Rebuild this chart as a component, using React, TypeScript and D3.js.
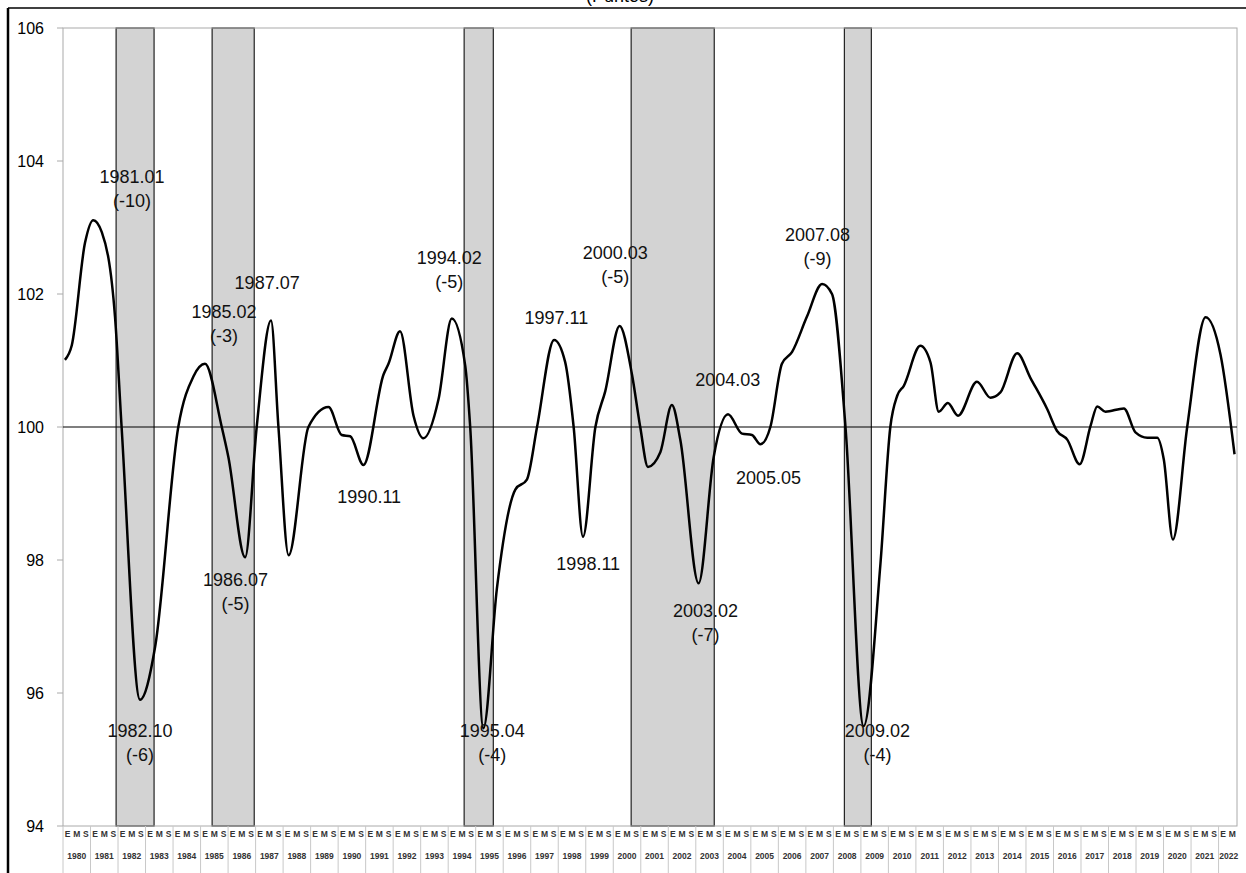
import React from 'react';
import * as d3 from 'd3';

// Curve points: decimal year and index value
const pointYears = [
  1980.07, 1980.32, 1980.8, 1981.1, 1981.41, 1981.89, 1982.13, 1982.8, 1983.35, 1984.19,
  1984.74, 1985.16, 1985.77, 1986.01, 1986.62, 1987.04, 1987.56, 1987.83, 1988.2, 1988.92,
  1989.65, 1990.13, 1990.44, 1990.92, 1991.65, 1991.83, 1992.25, 1992.74, 1993.1, 1993.65,
  1994.13, 1994.62, 1994.8, 1995.28, 1995.77, 1996.44, 1996.86, 1997.23, 1997.85, 1998.25,
  1998.56, 1998.9, 1999.35, 1999.71, 2000.23, 2000.68, 2000.98, 2001.26, 2001.71, 2002.13,
  2002.44, 2003.1, 2003.65, 2004.17, 2004.68, 2005.04, 2005.35, 2005.71, 2006.13, 2006.5,
  2007.04, 2007.59, 2007.95, 2008.44, 2009.1, 2009.71, 2010.07, 2010.32, 2010.56, 2011.16,
  2011.53, 2011.83, 2012.16, 2012.53, 2013.22, 2013.71, 2014.07, 2014.68, 2015.16, 2015.77,
  2016.13, 2016.5, 2016.95, 2017.35, 2017.59, 2017.89, 2018.56, 2018.98, 2019.41, 2019.77,
  2020.01, 2020.34, 2020.86, 2021.53, 2022.07, 2022.58,
];
const pointValues = [
  101.01, 101.23, 102.77, 103.11, 102.93, 101.66, 100, 95.9, 96.7, 100,
  100.76, 100.95, 100, 99.55, 98.04, 100, 101.6, 100, 98.07, 100,
  100.3, 99.88, 99.86, 99.43, 100.79, 100.95, 101.44, 100.17, 99.83, 100.42,
  101.63, 100.92, 100, 95.47, 97.57, 99.06, 99.21, 100, 101.31, 100.98,
  100, 98.35, 100, 100.54, 101.52, 100.79, 100, 99.4, 99.62, 100.33,
  99.8, 97.65, 99.55, 100.19, 99.9, 99.88, 99.74, 100, 100.95, 101.13,
  101.66, 102.15, 102, 100, 95.5, 97.94, 100, 100.47, 100.62, 101.22,
  100.97, 100.23, 100.36, 100.17, 100.68, 100.44, 100.52, 101.11, 100.74, 100.27,
  99.94, 99.81, 99.44, 100.02, 100.31, 100.23, 100.28, 99.92, 99.84, 99.84,
  99.51, 98.31, 100, 101.65, 101.09, 99.59,
];

// Shaded recession bands (start, end as decimal years)
const bandStarts = [1981.93, 1985.42, 1994.58, 2000.65, 2008.4];
const bandEnds = [1983.31, 1986.95, 1995.64, 2003.67, 2009.38];

const yTicks = [94, 96, 98, 100, 102, 104, 106];
const years = d3.range(1980, 2023);
const monthLetters = ['E', 'M', 'S'];

// Turning-point annotations: text lines, anchor year, anchor value (first baseline)
const annLines = [
  ['1981.01', '(-10)'], ['1982.10', '(-6)'], ['1985.02', '(-3)'], ['1987.07'],
  ['1986.07', '(-5)'], ['1990.11'], ['1994.02', '(-5)'], ['1995.04', '(-4)'],
  ['1997.11'], ['1998.11'], ['2000.03', '(-5)'], ['2003.02', '(-7)'],
  ['2004.03'], ['2005.05'], ['2007.08', '(-9)'], ['2009.02', '(-4)'],
];
const annYears = [
  1982.51, 1982.8, 1985.85, 1987.42, 1986.27, 1991.13, 1994.04, 1995.6,
  1997.93, 1999.09, 2000.07, 2003.35, 2004.16, 2005.64, 2007.42, 2009.6,
];
const annValues = [
  103.67, 95.34, 101.64, 102.08, 97.61, 98.86, 102.45, 95.34,
  101.55, 97.85, 102.53, 97.14, 100.62, 99.14, 102.8, 95.34,
];

const W = 1246;
const H = 873;
const left = 63;
const right = 1237;
const top = 28;
const bottom = 826;

const App: React.FC = () => {
  const x = d3.scaleLinear().domain([1980, 2022.67]).range([left, right]);
  const y = d3.scaleLinear().domain([94, 106]).range([bottom, top]);
  const pts = pointYears.map((t, i) => [t, pointValues[i]] as [number, number]);
  const line = d3
    .line<[number, number]>()
    .x((d) => x(d[0]))
    .y((d) => y(d[1]))
    .curve(d3.curveMonotoneX);
  const font = 'Arial, "Liberation Sans", sans-serif';

  return (
    <svg width={W} height={H} style={{ position: 'absolute', left: 0, top: 0, background: '#fff' }} fontFamily={font}>
      <text x={620} y={2} textAnchor="middle" fontSize={18}>(Puntos)</text>
      <line x1={8} x2={W} y1={8} y2={8} stroke="#000" strokeWidth={1.5} />
      <line x1={8} x2={8} y1={8} y2={H} stroke="#000" strokeWidth={2.5} />

      {bandStarts.map((s, i) => (
        <rect key={i} x={x(s)} y={top} width={x(bandEnds[i]) - x(s)} height={bottom - top}
          fill="#d3d3d3" stroke="#222" strokeWidth={1.2} />
      ))}

      <rect x={left} y={top} width={right - left} height={bottom - top} fill="none" stroke="#aaa" />

      {yTicks.map((t) => (
        <g key={t}>
          <line x1={left - 6} x2={left} y1={y(t)} y2={y(t)} stroke="#aaa" />
          <text x={44} y={y(t)} dy="0.35em" textAnchor="end" fontSize={16}>{t}</text>
        </g>
      ))}

      <line x1={left} x2={right} y1={y(100)} y2={y(100)} stroke="#000" strokeWidth={1.2} />

      <path d={line(pts) || ''} fill="none" stroke="#000" strokeWidth={2.5} />

      {years.map((yr) => {
        const x0 = x(yr);
        const x1 = Math.min(x(yr + 1), right);
        const seg = (x(yr + 1) - x0) / 3;
        const letters = yr === 2022 ? monthLetters.slice(0, 2) : monthLetters;
        return (
          <g key={yr}>
            <line x1={x0} x2={x0} y1={bottom} y2={H} stroke="#c8c8c8" />
            {letters.map((m, k) => (
              <text key={m} x={x0 + seg * (k + 0.5)} y={837} textAnchor="middle" fontSize={8.5} fontWeight="bold" fill="#333">{m}</text>
            ))}
            <text x={(x0 + x1) / 2 + (yr === 2022 ? 1 : 0)} y={859} textAnchor="middle" fontSize={8.5} fontWeight="bold" fill="#333">{yr}</text>
          </g>
        );
      })}

      {annLines.map((lines, i) => (
        <text key={i} textAnchor="middle" fontSize={18} fill="#111">
          {lines.map((l, j) => (
            <tspan key={j} x={x(annYears[i]) - (j > 0 ? 4 : 0) * 0} y={y(annValues[i]) + j * 24}>{l}</tspan>
          ))}
        </text>
      ))}
    </svg>
  );
};

export default App;
